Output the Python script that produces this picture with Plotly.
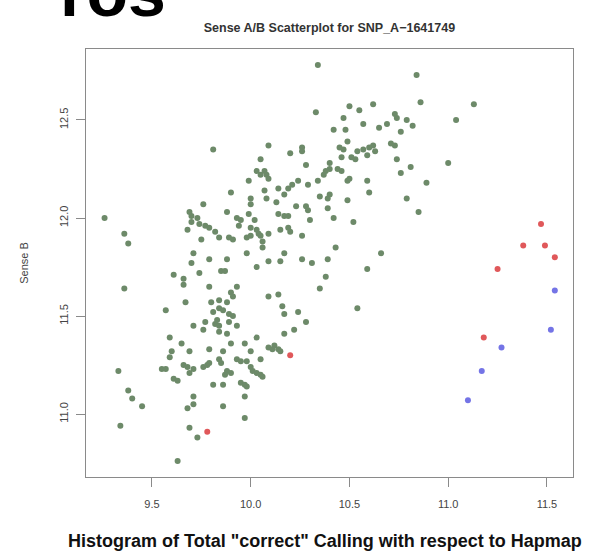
import plotly.graph_objects as go

# Sense A / Sense B intensities for the three genotype clusters
green_a = [10.34, 10.33, 10.42, 9.81, 10.09, 10.20, 10.26, 10.05, 10.28, 9.26, 9.36, 9.38,
           10.84, 10.86, 11.04, 11.13, 10.50, 10.55, 10.62, 10.47, 10.57, 10.69, 10.65, 10.73,
           10.74, 10.79, 10.82, 10.76, 10.48, 10.49, 10.45, 10.47, 10.54, 10.57, 10.60, 10.62,
           10.63, 10.71, 10.73, 10.51, 10.53, 10.59, 10.46, 10.26, 10.40, 10.38, 10.40, 10.44,
           10.46, 10.37, 10.74, 10.81, 10.76, 11.00, 10.89, 10.79, 10.85, 10.50, 10.49, 10.34,
           10.29, 10.59, 10.60, 10.49, 10.35, 10.40, 10.39, 10.39, 10.42, 10.52, 10.30, 10.23,
           10.28, 10.29, 10.26, 10.43, 10.66, 10.14, 10.17, 10.19, 10.21, 10.24, 10.03, 10.05,
           10.07, 10.08, 10.09, 9.99, 9.90, 10.07, 10.08, 10.00, 10.00, 10.13, 9.76, 9.88,
           9.69, 9.70, 9.70, 9.73, 9.74, 9.77, 9.79, 9.82, 9.84, 9.93, 9.95, 9.99, 10.02,
           9.94, 10.00, 10.03, 10.04, 10.05, 10.06, 10.06, 10.14, 10.17, 10.19, 10.15, 10.19,
           10.20, 10.09, 9.68, 9.75, 9.89, 9.91, 9.98, 10.00, 9.71, 9.79, 9.88, 9.98, 10.17,
           10.09, 10.15, 10.03, 9.70, 9.74, 9.61, 9.66, 9.66, 9.85, 9.87, 9.79, 9.90, 9.91,
           9.93, 10.09, 10.14, 9.57, 9.67, 9.80, 9.84, 9.88, 9.81, 9.84, 9.86, 9.89, 9.91,
           10.16, 10.17, 10.24, 9.77, 9.82, 9.83, 9.84, 9.89, 9.71, 9.76, 9.93, 9.84, 9.88,
           10.17, 10.22, 9.59, 10.03, 9.65, 9.90, 9.97, 10.09, 10.12, 10.14, 10.15, 10.11,
           10.00, 9.69, 9.79, 9.60, 9.59, 9.86, 9.84, 9.85, 9.93, 9.95, 9.98, 10.00, 10.01,
           10.03, 10.05, 10.06, 10.05, 9.55, 9.57, 9.66, 9.68, 9.69, 9.71, 9.76, 9.78, 9.79,
           9.88, 9.87, 9.90, 9.61, 9.63, 9.81, 9.86, 9.95, 9.97, 9.98, 9.97, 9.71, 9.68, 9.71,
           9.86, 9.97, 9.69, 9.73, 9.63, 10.26, 10.31, 10.39, 10.38, 10.35, 10.59, 10.28,
           10.54, 9.36, 9.33, 9.38, 9.40, 9.45, 9.34]
green_b = [12.78, 12.54, 12.45, 12.35, 12.37, 12.33, 12.36, 12.30, 12.27, 12.00, 11.92, 11.87,
           12.73, 12.59, 12.50, 12.58, 12.57, 12.55, 12.58, 12.51, 12.48, 12.48, 12.46, 12.53,
           12.51, 12.50, 12.47, 12.44, 12.45, 12.39, 12.36, 12.35, 12.34, 12.35, 12.36, 12.37,
           12.34, 12.38, 12.37, 12.31, 12.30, 12.32, 12.31, 12.34, 12.28, 12.24, 12.25, 12.25,
           12.24, 12.22, 12.30, 12.26, 12.23, 12.28, 12.18, 12.10, 12.03, 12.20, 12.19, 12.19,
           12.17, 12.19, 12.13, 12.09, 12.11, 12.12, 12.10, 12.05, 12.00, 11.98, 11.99, 12.06,
           12.06, 12.04, 11.91, 11.85, 11.82, 12.15, 12.12, 12.15, 12.17, 12.19, 12.24, 12.22,
           12.24, 12.22, 12.20, 12.19, 12.13, 12.14, 12.10, 12.10, 12.07, 12.08, 12.07, 12.03,
           12.03, 12.01, 11.98, 12.00, 11.97, 11.96, 11.95, 11.93, 11.90, 12.00, 11.99, 12.02,
           11.99, 11.96, 11.95, 11.94, 11.92, 11.91, 11.88, 11.85, 12.02, 12.01, 12.01, 11.94,
           11.95, 11.93, 11.92, 11.94, 11.89, 11.90, 11.89, 11.90, 11.91, 11.82, 11.79, 11.79,
           11.82, 11.82, 11.78, 11.78, 11.75, 11.77, 11.72, 11.71, 11.69, 11.66, 11.73, 11.73,
           11.65, 11.62, 11.60, 11.65, 11.60, 11.61, 11.53, 11.57, 11.57, 11.58, 11.57, 11.52,
           11.54, 11.53, 11.51, 11.50, 11.55, 11.51, 11.52, 11.47, 11.46, 11.48, 11.45, 11.47,
           11.45, 11.43, 11.45, 11.42, 11.41, 11.41, 11.43, 11.39, 11.39, 11.36, 11.36, 11.36,
           11.34, 11.35, 11.33, 11.32, 11.33, 11.32, 11.32, 11.33, 11.32, 11.29, 11.32, 11.28,
           11.26, 11.28, 11.27, 11.27, 11.24, 11.22, 11.21, 11.20, 11.19, 11.28, 11.23, 11.23,
           11.25, 11.24, 11.21, 11.23, 11.24, 11.25, 11.26, 11.22, 11.20, 11.21, 11.18, 11.17,
           11.15, 11.15, 11.16, 11.15, 11.14, 11.09, 11.09, 11.03, 11.05, 11.04, 10.98, 10.93,
           10.88, 10.76, 11.79, 11.77, 11.79, 11.70, 11.64, 11.74, 11.47, 11.54, 11.64, 11.22,
           11.12, 11.08, 11.04, 10.94]

red_a = [11.47, 11.38, 11.49, 11.54, 11.25, 11.18, 10.20, 9.78]
red_b = [11.97, 11.86, 11.86, 11.80, 11.74, 11.39, 11.30, 10.91]

blue_a = [11.54, 11.52, 11.27, 11.17, 11.10]
blue_b = [11.63, 11.43, 11.34, 11.22, 11.07]

x_ticks = [9.5, 10.0, 10.5, 11.0, 11.5]
y_ticks = [11.0, 11.5, 12.0, 12.5]

FONT = "Liberation Sans, Arial, sans-serif"

fig = go.Figure()
for xs, ys, col in [(green_a, green_b, "#6d8a69"),
                    (red_a, red_b, "#e0585a"),
                    (blue_a, blue_b, "#7474e6")]:
    fig.add_trace(go.Scatter(x=xs, y=ys, mode="markers",
                             marker=dict(size=6, color=col, line=dict(width=0)),
                             showlegend=False, hoverinfo="skip"))

axis_common = dict(showgrid=False, zeroline=False, showline=True, mirror=True,
                   linecolor="#8a8a8a", linewidth=1, ticks="outside", ticklen=9,
                   tickcolor="#8a8a8a",
                   tickfont=dict(family=FONT, size=11, color="#444444"))

fig.update_xaxes(range=[9.166, 11.632], tickvals=x_ticks,
                 ticktext=[f"{v:.1f}" for v in x_ticks], ticklabelstandoff=8,
                 **axis_common)
fig.update_yaxes(range=[10.679, 12.862], tickvals=y_ticks,
                 ticktext=[f"{v:.1f}" for v in y_ticks], tickangle=-90,
                 ticklabelstandoff=4,
                 title=dict(text="Sense B", standoff=26,
                            font=dict(family=FONT, size=11, color="#444444")),
                 **axis_common)

fig.update_layout(
    width=604, height=554,
    margin=dict(l=86, r=31, t=49, b=77),
    paper_bgcolor="white", plot_bgcolor="white",
    title=dict(text="<b>Sense A/B Scatterplot for SNP_A\u22121641749</b>",
               x=0.5454, xanchor="center", y=1 - 28 / 554, yanchor="middle",
               font=dict(family=FONT, size=12.5, color="#333333")),
    annotations=[
        dict(text="<b>Histogram of Total \"correct\" Calling with respect to Hapmap</b>",
             xref="paper", yref="paper", x=0.491, y=-64 / 428, xanchor="center",
             yanchor="middle", showarrow=False,
             font=dict(family=FONT, size=18, color="#111111")),
        dict(text="<b>ros</b>", xref="paper", yref="paper",
             x=-0.0583, y=1.0388, xanchor="left", yanchor="bottom",
             showarrow=False, font=dict(family=FONT, size=68, color="#000000")),
    ],
)

fig.write_html("out.html")
